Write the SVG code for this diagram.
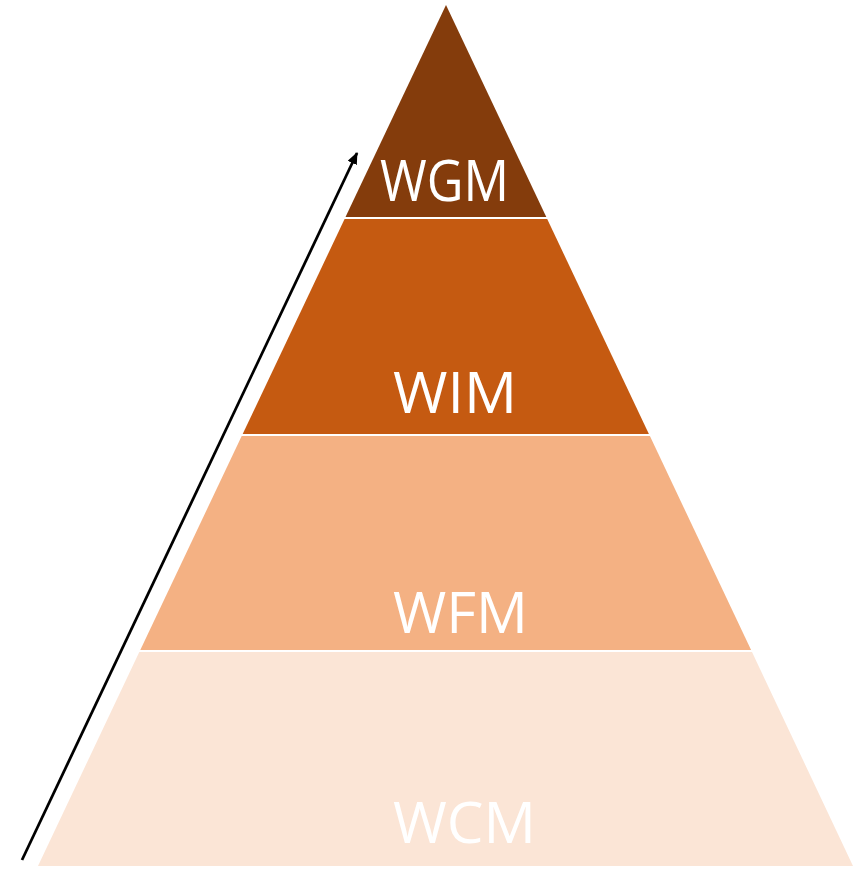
<svg xmlns="http://www.w3.org/2000/svg" width="858" height="882" viewBox="0 0 858 882">
<style>
.lbl{font-family:"Open Sans","Liberation Sans",sans-serif;font-size:56px;fill:#ffffff}
.conn{stroke:#000000;stroke-width:2.75;fill:none}
</style>
<defs>
<marker id="ah" markerWidth="12" markerHeight="10" refX="11" refY="5" orient="auto" markerUnits="userSpaceOnUse" viewBox="0 0 12 10">
<path d="M0,0 L12,5 L0,10 z" fill="#000000"/>
</marker>
</defs>
<rect width="858" height="882" fill="#ffffff"/>
<g id="wcm">
<polygon points="139.3,652 752,652 853,866 38,866" fill="#FBE5D6"/>
<text class="lbl" x="393" y="843" textLength="143" lengthAdjust="spacingAndGlyphs">WCM</text>
</g>
<g id="wfm">
<polygon points="241.7,436 649.9,436 751.1,650 140.3,650" fill="#F4B183"/>
<text class="lbl" x="393" y="633" textLength="135" lengthAdjust="spacingAndGlyphs">WFM</text>
</g>
<g id="wim">
<polygon points="344.6,219 547.2,219 648.9,434 242.7,434" fill="#C55A11"/>
<text class="lbl" x="393" y="413" textLength="124" lengthAdjust="spacingAndGlyphs">WIM</text>
</g>
<g id="wgm">
<polygon points="446,5 546.3,217 345.5,217" fill="#843C0C"/>
<text class="lbl" x="380" y="201" font-size="53" textLength="129" lengthAdjust="spacingAndGlyphs">WGM</text>
</g>
<g id="connectors">
<line class="conn" x1="22" y1="860" x2="357" y2="153" marker-end="url(#ah)"/>
</g>
</svg>
